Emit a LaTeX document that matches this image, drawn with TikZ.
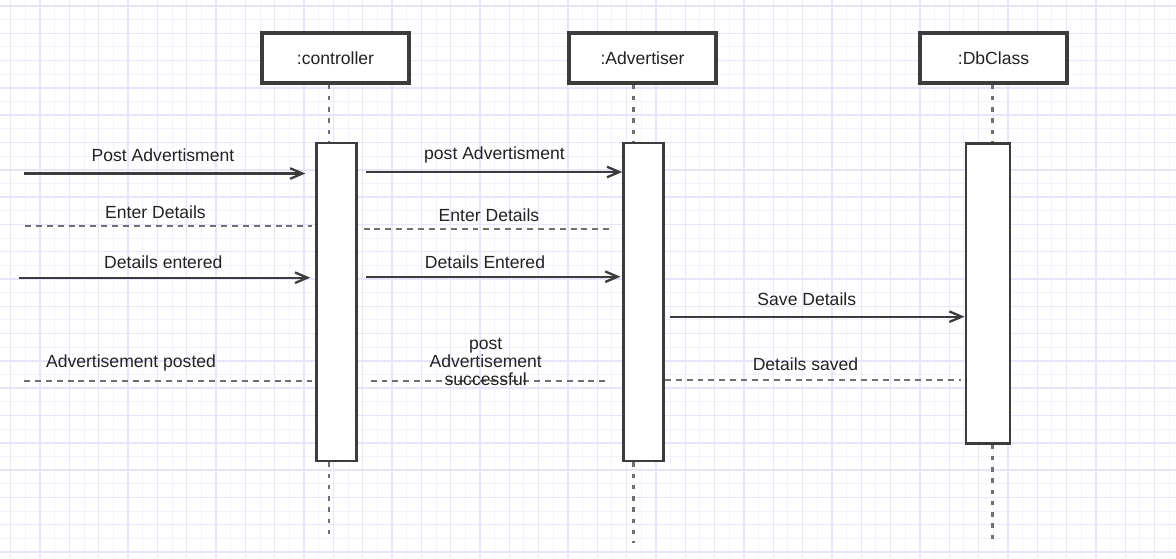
\documentclass[tikz,border=0pt]{standalone}
\usepackage{fontspec}
\setmainfont{Liberation Sans}
\usetikzlibrary{arrows.meta}

\definecolor{gridminor}{RGB}{242,242,254}
\definecolor{gridmajor}{RGB}{230,230,251}
\definecolor{linegray}{RGB}{60,60,60}
\definecolor{dashgray}{RGB}{112,112,112}
\definecolor{textdark}{RGB}{34,34,34}

\begin{document}
\begin{tikzpicture}[x=0.02cm, y=-0.02cm,
    headbox/.style={draw=linegray, line width=1.8pt, fill=white, minimum width=2.94cm, minimum height=1cm, text=textdark, font=\fontsize{10}{12}\selectfont},
    actbar/.style={draw=linegray, line width=1.5pt, fill=white, minimum width=0.8cm, inner sep=0pt},
    lifeline/.style={draw=dashgray, line width=1.4pt, dash pattern=on 2.6pt off 3.8pt},
    msg/.style={draw=linegray, line width=1.3pt, -{Straight Barb[length=7pt, width=6pt]}},
    reply/.style={draw=dashgray, line width=1.3pt, dash pattern=on 3.4pt off 2.8pt},
    msglabel/.style={text=textdark, font=\fontsize{10}{12}\selectfont, inner sep=0pt, text height=7.2pt, text depth=0pt},
]
    \useasboundingbox (0,0) rectangle (1176,558);

    % paper
    \fill[white] (0,0) rectangle (1176,558);
    \foreach \gx in {-3.965,10.7,...,1180} \draw[gridminor, line width=0.55pt] (\gx,0) -- (\gx,558);
    \foreach \gy in {-7.65,6,...,562} \draw[gridminor, line width=0.55pt] (0,\gy) -- (1176,\gy);
    \foreach \gx in {10.7,40.03,...,1180} \draw[gridmajor, line width=0.85pt] (\gx,0) -- (\gx,558);
    \foreach \gy in {6,33.3,...,562} \draw[gridmajor, line width=0.85pt] (0,\gy) -- (1176,\gy);

    % objects
    \node[headbox] (ctl) at (335.5,58) {:controller};
    \node[headbox] (adv) at (642.5,58) {:Advertiser};
    \node[headbox] (db) at (993.5,58) {:DbClass};

    % activations
    \node[actbar, minimum height=6.36cm] (actctl) at (336.3,302) {};
    \node[actbar, minimum height=6.36cm] (actadv) at (643.5,302) {};
    \node[actbar, minimum width=0.88cm, minimum height=6cm] (actdb) at (987.9,293.3) {};

    % lifelines
    \coordinate (endctl) at (329,538);
    \coordinate (endadv) at (633.3,543);
    \coordinate (enddb) at (992.3,541);
    \draw[lifeline] (ctl.south -| endctl) -- (actctl.north -| endctl);
    \draw[lifeline] (actctl.south -| endctl) -- (endctl);
    \draw[lifeline] (adv.south -| endadv) -- (actadv.north -| endadv);
    \draw[lifeline] (actadv.south -| endadv) -- (endadv);
    \draw[lifeline] (db.south -| enddb) -- (actdb.north -| enddb);
    \draw[lifeline] (actdb.south -| enddb) -- (enddb);

    % post
    \coordinate (in1) at (24,173.5);
    \draw[msg, shorten >=5.5pt] (in1) -- (actctl.west |- in1);
    \node[msglabel] (l1) at (163,155.5) {Post Advertisment};
    \coordinate (m2) at (0,172);
    \draw[msg, shorten <=4.5pt] (actctl.east |- m2) -- (actadv.west |- m2);
    \node[msglabel] (l2) at (494.5,153.3) {post Advertisment};

    % details
    \coordinate (in3) at (25,226);
    \draw[reply, shorten >=1.5pt] (in3) -- (actctl.west |- in3);
    \node[msglabel] (l3) at (155.5,211.7) {Enter Details};
    \coordinate (m4) at (0,229.3);
    \draw[reply, shorten <=3.4pt, shorten >=6.8pt] (actctl.east |- m4) -- (actadv.west |- m4);
    \node[msglabel] (l4) at (489,214.7) {Enter Details};
    \coordinate (in5) at (19.3,277.7);
    \draw[msg, shorten >=2.7pt] (in5) -- (actctl.west |- in5);
    \node[msglabel] (l5) at (163.3,261.7) {Details entered};
    \coordinate (m6) at (0,276.7);
    \draw[msg, shorten <=4.5pt, shorten >=1pt] (actctl.east |- m6) -- (actadv.west |- m6);
    \node[msglabel] (l6) at (485,261.7) {Details Entered};

    % save
    \coordinate (m7) at (0,316.7);
    \draw[msg, shorten <=2.7pt] (actadv.east |- m7) -- (actdb.west |- m7);
    \node[msglabel] (l7) at (806.8,299.3) {Save Details};

    % returns
    \coordinate (in8) at (24,381);
    \draw[reply, shorten >=1.5pt] (in8) -- (actctl.west |- in8);
    \node[msglabel] (l8) at (131,361) {Advertisement posted};
    \coordinate (m9) at (0,381);
    \draw[reply, shorten <=7.4pt, shorten >=8pt] (actctl.east |- m9) -- (actadv.west |- m9);
    \node[text=textdark, font=\fontsize{10}{10.4}\selectfont, align=center, inner sep=0pt] (l9) at (485.7,362) {post\\Advertisement\\successful};
    \coordinate (m10) at (0,380);
    \draw[reply, shorten >=2.3pt] (actadv.east |- m10) -- (actdb.west |- m10);
    \node[msglabel] (l10) at (805.5,364.3) {Details saved};
\end{tikzpicture}
\end{document}
